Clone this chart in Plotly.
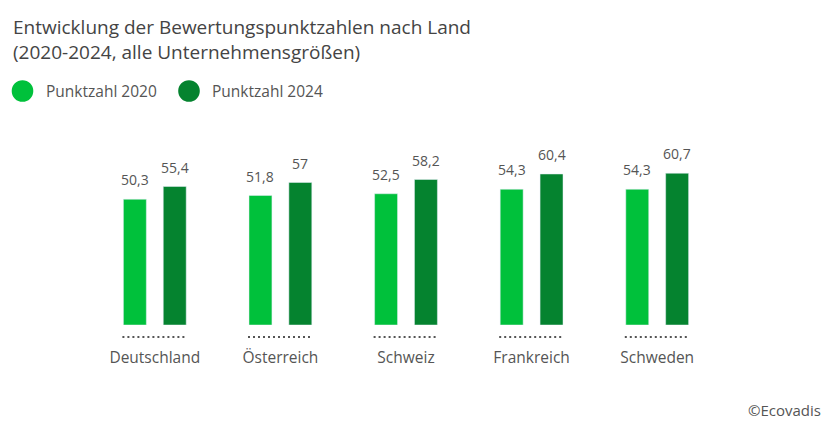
import plotly.graph_objects as go

countries = ["Deutschland", "Österreich", "Schweiz", "Frankreich", "Schweden"]
score_2020 = [50.3, 51.8, 52.5, 54.3, 54.3]
score_2024 = [55.4, 57.0, 58.2, 60.4, 60.7]
series_names = ["Punktzahl 2020", "Punktzahl 2024"]
colors = ["#00c13b", "#05832f"]
title_lines = ["Entwicklung der Bewertungspunktzahlen nach Land",
               "(2020-2024, alle Unternehmensgrößen)"]
source = "©Ecovadis"

FONT = "Open Sans"
TXT = "#555555"

# page body has an 8px margin: figure is 832x426 and coordinates are offset by 8
W, H = 832, 426
L, R, T, B = 84, 120, 147, 109
PW, PH = W - L - R, H - T - B
BASE = H - B  # pixel y of value 0
BARGAP, GROUPGAP = 0.365, 0.425


def fmt(v):
    return f"{v:g}".replace(".", ",")


def px(x):  # figure pixel x -> paper x
    return (x - L) / PW


def py(y):  # figure pixel y -> paper y
    return (BASE - y) / PH


fig = go.Figure()
for name, vals, col in zip(series_names, [score_2020, score_2024], colors):
    fig.add_trace(go.Bar(
        x=countries, y=vals, name=name, marker_color=col,
        showlegend=False, hoverinfo="x+y",
    ))

# value labels above each bar (bar centre offset follows the group layout)
slot = (1 - BARGAP) / len(series_names)
for j, vals in enumerate([score_2020, score_2024]):
    off = -(1 - BARGAP) / 2 + slot * (j + 0.5)
    for i, v in enumerate(vals):
        fig.add_annotation(text=fmt(v), x=i + off, y=v, xref="x", yref="y",
                           xanchor="center", yanchor="bottom", yshift=8,
                           showarrow=False,
                           font=dict(family=FONT, size=14, color=TXT))

shapes = []
for i, _ in enumerate(countries):
    shapes.append(dict(type="line", xref="x", yref="paper",
                       x0=i - 0.258, x1=i + 0.258, y0=py(329), y1=py(329),
                       line=dict(color="#555555", width=2, dash="2px,3px")))

legend_cx = [14.5, 181]
for j, col in enumerate(colors):
    shapes.append(dict(type="circle", xref="paper", yref="paper",
                       xsizemode="pixel", ysizemode="pixel",
                       xanchor=px(legend_cx[j]), yanchor=py(83),
                       x0=-10.8, x1=10.8, y0=-10.8, y1=10.8,
                       fillcolor=col, line=dict(width=0)))

fig.update_layout(
    width=W, height=H,
    margin=dict(l=L, r=R, t=T, b=B),
    paper_bgcolor="white", plot_bgcolor="white",
    barmode="group", bargap=BARGAP, bargroupgap=GROUPGAP,
    font=dict(family=FONT, color=TXT),
    shapes=shapes,
    xaxis=dict(showline=False, showgrid=False, zeroline=False, ticks="",
               tickfont=dict(family=FONT, size=15.5, color=TXT),
               ticklabelstandoff=21),
    yaxis=dict(range=[0, 68], visible=False, showgrid=False, zeroline=False),
)

fig.add_annotation(text="<br>".join(title_lines), xref="paper", yref="paper",
                   x=px(3), y=py(31), xanchor="left", yanchor="middle",
                   align="left", showarrow=False,
                   font=dict(family=FONT, size=19, color="#444444"))

legend_tx = [36, 202]
for j, name in enumerate(series_names):
    fig.add_annotation(text=name, xref="paper", yref="paper",
                       x=px(legend_tx[j]), y=py(83),
                       xanchor="left", yanchor="middle", showarrow=False,
                       font=dict(family=FONT, size=15.5, color=TXT))

fig.add_annotation(text=source, xref="paper", yref="paper",
                   x=px(815), y=py(402),
                   xanchor="right", yanchor="middle", showarrow=False,
                   font=dict(family=FONT, size=15, color=TXT))

fig.write_html("out.html")
